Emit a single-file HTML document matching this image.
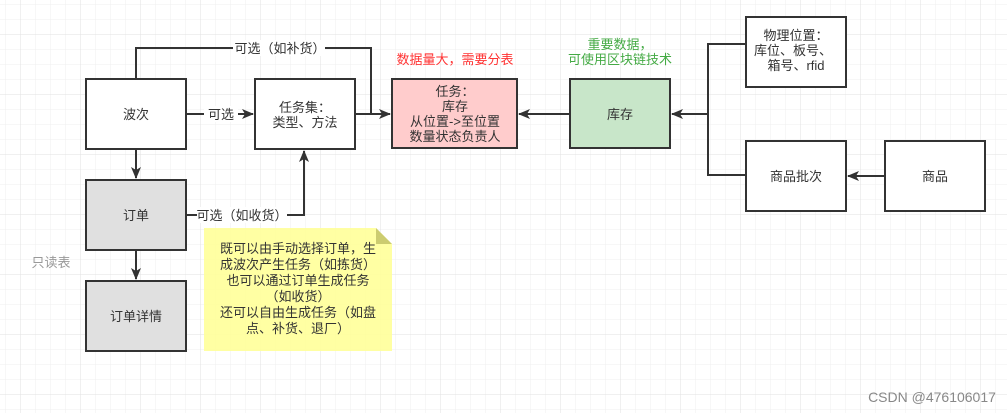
<!DOCTYPE html>
<html><head><meta charset="utf-8"><style>
html,body{margin:0;padding:0;background:#fff}
svg{display:block;font-family:"Liberation Sans","Noto Sans CJK SC",sans-serif}
</style></head><body>
<svg width="1007" height="413" viewBox="0 0 1007 413" xmlns="http://www.w3.org/2000/svg">
<defs>
<pattern id="g" x="5" y="4" width="15" height="15" patternUnits="userSpaceOnUse"><path d="M0 0V15M0 0H15" stroke="#efefef" stroke-width="1" fill="none"/></pattern>
<pattern id="G" x="20" y="34" width="60" height="60" patternUnits="userSpaceOnUse"><path d="M0 0V60M0 0H60" stroke="#e2e2e2" stroke-width="1" fill="none"/></pattern>
<marker id="a" markerWidth="12" markerHeight="12" refX="11" refY="6" orient="auto" markerUnits="userSpaceOnUse"><path d="M0 1L12 6L0 11L3 6Z" fill="#333"/></marker>
</defs>
<rect width="1007" height="413" fill="url(#g)"/>
<rect width="1007" height="413" fill="url(#G)"/>
<g stroke="#333" stroke-width="2" fill="none">
<path d="M136 79V48H371V114H390" marker-end="url(#a)"/>
<path d="M186 114H253" marker-end="url(#a)"/>
<path d="M355 114H390"/>
<path d="M570 114H519" marker-end="url(#a)"/>
<path d="M746 44H708V175H746M708 114H672" marker-end="url(#a)"/>
<path d="M885 176H848" marker-end="url(#a)"/>
<path d="M136 149V178" marker-end="url(#a)"/>
<path d="M136 250V279" marker-end="url(#a)"/>
<path d="M186 215H304V151" marker-end="url(#a)"/>
</g>
<g stroke="#333" stroke-width="2">
<rect x="86" y="79" width="100" height="70" fill="#fff"/>
<rect x="255" y="79" width="100" height="70" fill="#fff"/>
<rect x="392" y="79" width="125" height="69" fill="#ffcccc"/>
<rect x="570" y="79" width="100" height="69" fill="#c8e6c9"/>
<rect x="746" y="17" width="100" height="70" fill="#fff"/>
<rect x="746" y="141" width="100" height="70" fill="#fff"/>
<rect x="885" y="141" width="100" height="70" fill="#fff"/>
<rect x="86" y="180" width="100" height="70" fill="#e0e0e0"/>
<rect x="86" y="281" width="100" height="70" fill="#e0e0e0"/>
</g>
<path d="M204 228H376L392 244V351H204Z" fill="#ffff99" opacity="0.9"/>
<path d="M376 228L392 244H376Z" fill="#cccc70"/>
<g fill="#fff"><rect x="233" y="40" width="92" height="16"/><rect x="204" y="106" width="34" height="16"/><rect x="197" y="207" width="90" height="16"/></g>
<g font-size="13" fill="#333" text-anchor="middle">
<text x="280" y="53">可选（如补货）</text>
<text x="221" y="119">可选</text>
<text x="242" y="220">可选（如收货）</text>
<text x="136" y="119">波次</text>
<text x="305" y="112">任务集：</text><text x="305" y="127">类型、方法</text>
<text x="455" y="96">任务：</text><text x="455" y="111">库存</text><text x="455" y="126">从位置-&gt;至位置</text><text x="455" y="141">数量状态负责人</text>
<text x="620" y="119">库存</text>
<text x="796" y="40">物理位置：</text><text x="793" y="55">库位、板号、</text><text x="796" y="70">箱号、rfid</text>
<text x="796" y="181">商品批次</text>
<text x="935" y="181">商品</text>
<text x="136" y="220">订单</text>
<text x="136" y="321">订单详情</text>
<text x="298" y="253">既可以由手动选择订单，生</text>
<text x="298" y="269">成波次产生任务（如拣货）</text>
<text x="298" y="285">也可以通过订单生成任务</text>
<text x="298" y="301">（如收货）</text>
<text x="298" y="317">还可以自由生成任务（如盘</text>
<text x="298" y="333">点、补货、退厂）</text>
<text x="455" y="64" fill="#ff3333">数据量大，需要分表</text>
<text x="620" y="49" fill="#44aa44">重要数据，</text><text x="620" y="64" fill="#44aa44">可使用区块链技术</text>
<text x="51" y="267" fill="#999">只读表</text>
<text x="932" y="402" fill="#888" font-size="14">CSDN @476106017</text>
</g>
</svg>
</body></html>
